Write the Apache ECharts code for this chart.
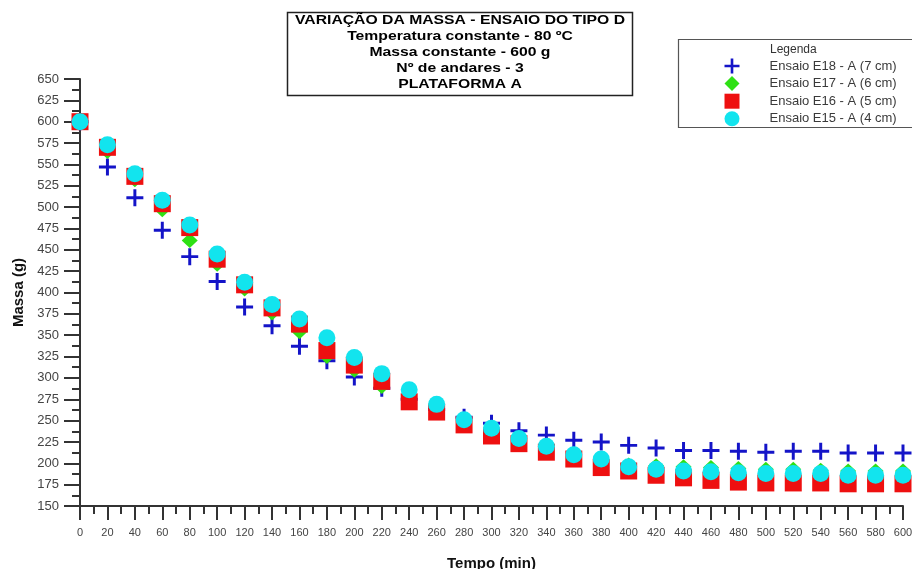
<!DOCTYPE html>
<html>
<head>
<meta charset="utf-8">
<script src="https://cdn.jsdelivr.net/npm/echarts@6/dist/echarts.min.js"></script>
<style>html,body{margin:0;padding:0;background:#fff}#c{width:912px;height:569px}</style>
</head>
<body>
<div id="c"></div>
<script>
const tempo = [0,20,40,60,80,100,120,140,160,180,200,220,240,260,280,300,320,340,360,380,400,420,440,460,480,500,520,540,560,580,600];
const e18 = [600,547,511,473,442,413,383,361,337,320,301,288,275,263,254,247,238,233,227,225,221,218,215,215,214,213,214,214,212,212,212];
const e17 = [600,565,532,497,461,433,404,376,354,325,309,290,276,263,249,237,227,218,211,204,198,197,196,195,194,193,193,192,191,191,191];
const e16 = [600,570,536,504,476,439,409,382,363,332,315,296,272,260,245,232,223,213,205,195,191,186,183,180,178,177,177,177,176,176,176];
const e15 = [600,573,539,508,479,445,412,386,369,347,324,305,286,269,251,241,229,220,210,205,196,193,191,190,189,188,188,188,186,186,186];
const seriesNames = ['Ensaio E18 - A (7 cm)','Ensaio E17 - A (6 cm)','Ensaio E16 - A (5 cm)','Ensaio E15 - A (4 cm)'];
const titleLines = ['VARIAÇÃO DA MASSA - ENSAIO DO TIPO D','Temperatura constante - 80 ºC','Massa constante - 600 g','Nº de andares - 3','PLATAFORMA A'];
const yTitle = 'Massa (g)';
const xTitle = 'Tempo (min)';
const legendTitle = 'Legenda';

const pair = arr => tempo.map((t, i) => [t, arr[i]]);
const crossPath = 'path://M6.6,0H9.4V6.6H16V9.4H9.4V16H6.6V9.4H0V6.6H6.6Z';

const chart = echarts.init(document.getElementById('c'), null, {renderer: 'canvas'});
const FONT = '"Liberation Sans", Arial, sans-serif';

const titleGraphics = titleLines.map((t, i) => ({
  type: 'text', x: 460, y: 20.5 + i * 16, scaleX: 1.21, scaleY: 1,
  style: {text: t, font: 'bold 13px ' + FONT, fill: '#000', textAlign: 'center', textVerticalAlign: 'middle'}
}));

chart.setOption({
  animation: false,
  backgroundColor: '#fff',
  grid: {left: 80, right: 9, top: 79, bottom: 63, containLabel: false, outerBoundsMode: 'none'},
  legend: {
    orient: 'vertical', left: 719.5, top: 53.5,
    itemWidth: 15, itemHeight: 15, itemGap: 2.6,
    textStyle: {fontSize: 13, color: '#3a3a3a', fontFamily: FONT, padding: [0, 0, 0, 25]},
    data: seriesNames
  },
  xAxis: {
    type: 'value', min: 0, max: 600, interval: 20,
    name: xTitle, nameLocation: 'middle', nameGap: 50,
    nameTextStyle: {fontWeight: 'bold', fontSize: 15, color: '#111', fontFamily: FONT},
    axisLine: {lineStyle: {color: '#333', width: 2}},
    axisTick: {length: 14, lineStyle: {color: '#333', width: 2}},
    minorTick: {show: true, splitNumber: 2, length: 8, lineStyle: {color: '#333', width: 2}},
    axisLabel: {fontSize: 11, color: '#444', margin: 21, fontFamily: FONT},
    splitLine: {show: false}
  },
  yAxis: {
    type: 'value', min: 150, max: 650, interval: 25,
    name: yTitle, nameLocation: 'middle', nameGap: 54,
    nameTextStyle: {fontWeight: 'bold', fontSize: 15, color: '#111', fontFamily: FONT},
    axisLine: {lineStyle: {color: '#333', width: 2}},
    axisTick: {length: 16, lineStyle: {color: '#333', width: 2}},
    minorTick: {show: true, splitNumber: 2, length: 8, lineStyle: {color: '#333', width: 2}},
    axisLabel: {fontSize: 13, color: '#444', margin: 21, fontFamily: FONT},
    splitLine: {show: false}
  },
  series: [
    {name: seriesNames[0], type: 'scatter', symbol: crossPath, symbolSize: 17, itemStyle: {color: '#1414c8', opacity: 1}, data: pair(e18)},
    {name: seriesNames[1], type: 'scatter', symbol: 'diamond', symbolSize: [16, 15], itemStyle: {color: '#2ee014', opacity: 1}, data: pair(e17)},
    {name: seriesNames[2], type: 'scatter', symbol: 'rect', symbolSize: 17, itemStyle: {color: '#ee1010', opacity: 1}, data: pair(e16)},
    {name: seriesNames[3], type: 'scatter', symbol: 'circle', symbolSize: 17, itemStyle: {color: '#12e4ee', opacity: 1}, data: pair(e15)}
  ],
  graphic: [
    {type: 'rect', shape: {x: 287.5, y: 12.5, width: 345, height: 83}, style: {fill: '#fff', stroke: '#222', lineWidth: 1.5}, z: -1},
    ...titleGraphics,
    {type: 'rect', shape: {x: 678.5, y: 39.5, width: 240, height: 88}, style: {fill: 'rgba(0,0,0,0)', stroke: '#555', lineWidth: 1.2}},
    {type: 'text', x: 770, y: 50, style: {text: legendTitle, font: '12px ' + FONT, fill: '#333', textVerticalAlign: 'middle'}}
  ]
});
</script>
</body>
</html>
